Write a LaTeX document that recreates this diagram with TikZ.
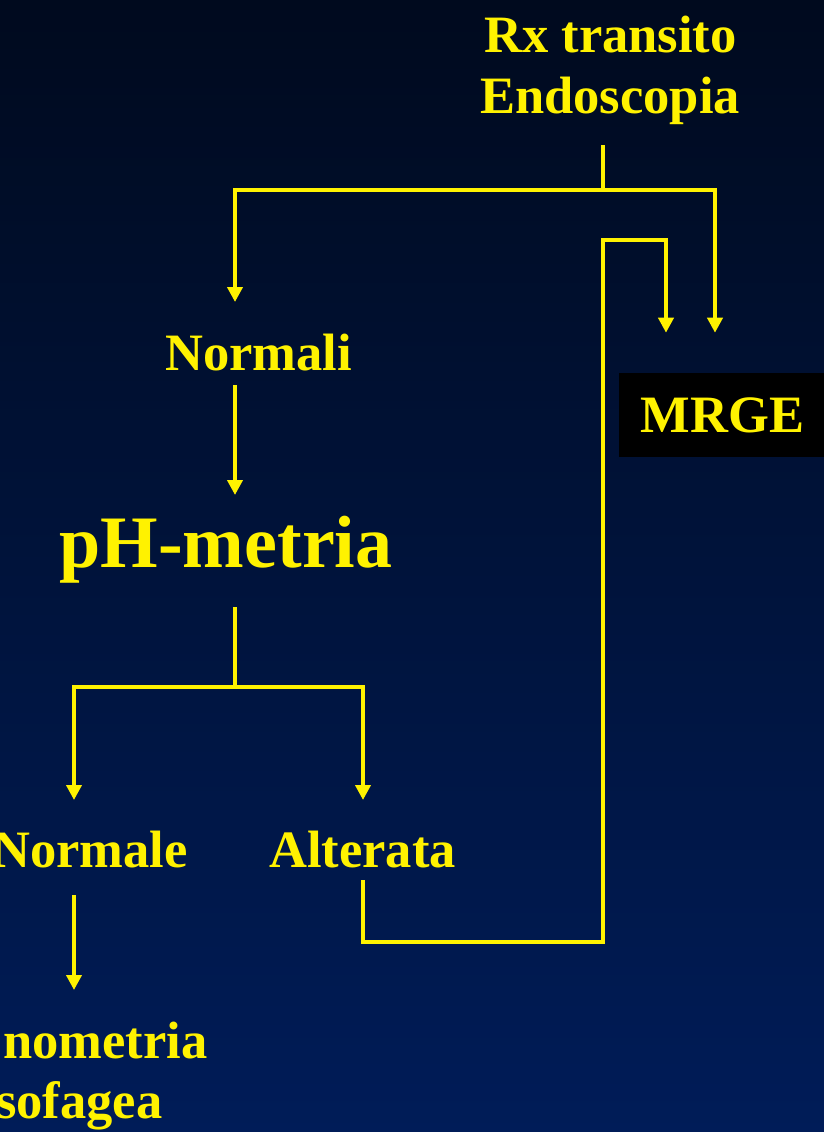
\documentclass[tikz,border=0pt]{standalone}
\usepackage{fontspec}
\setmainfont{Liberation Serif}
\usetikzlibrary{arrows.meta}
\definecolor{bgtop}{RGB}{0,10,30}
\definecolor{bgbot}{RGB}{0,28,88}
\begin{document}
\begin{tikzpicture}[x=0.75pt,y=-0.75pt,
  lbl/.style={text=yellow,font=\fontsize{39.4}{46}\selectfont\bfseries,inner sep=0pt,anchor=base},
  big/.style={lbl,font=\fontsize{55.5}{64}\selectfont\bfseries},
  tag/.style={fill=black,text=yellow,font=\fontsize{39.4}{46}\selectfont\bfseries,
              inner sep=0pt,minimum width=155.25pt,minimum height=63pt},
  wire/.style={draw=yellow,line width=3.2pt,line join=miter},
  arr/.style={wire,-{Triangle[width=11.25pt,length=11.25pt]}}]

% page and background
\useasboundingbox (0,0) rectangle (824,1132);
\clip (0,0) rectangle (824,1132);
\shade[top color=bgtop,bottom color=bgbot] (0,0) rectangle (824,1132);

% labels
\node[lbl] (rx1) at (610.5,52) {Rx transito};
\node[lbl] (rx2) at (610,113) {Endoscopia};
\node[lbl] (normali) at (258.5,370) {Normali};
\node[big] (ph) at (226,567) {pH-metria};
\node[lbl,anchor=base east] (normale) at (188,867) {Normale};
\node[lbl] (alterata) at (362.5,867) {Alterata};
\node[lbl,anchor=base west] (mano1) at (3,1058) {nometria};
\node[lbl,anchor=base west] (mano2) at (-4,1118) {sofagea};
\node[tag] (mrge) at (722.5,415) {MRGE};

% junctions and connector columns
\coordinate (top) at (603,190);
\coordinate (loop) at (603,240);
\coordinate (fork) at (235,687);
\coordinate (bend) at (363,942);
\coordinate (cL) at (235,0);
\coordinate (cM) at (666,0);
\coordinate (cR) at (715,0);
\coordinate (cA) at (74,0);
\coordinate (cB) at (363,0);

% first split: normal results vs. reflux disease
\draw[wire,shorten <=24pt] (top |- rx2.base) -- (top);
\draw[arr,shorten >=51pt] (top) -| (cL |- normali.base);
\draw[arr,shorten >=30pt] (top) -| (cR |- mrge.north);

% normal -> pH monitoring
\draw[arr,shorten <=11.25pt,shorten >=54pt] (cL |- normali.base) -- (cL |- ph.base);

% pH monitoring split
\draw[wire,shorten <=30pt] (cL |- ph.base) -- (fork);
\draw[arr,shorten >=50.25pt] (fork) -| (cA |- normale.base);
\draw[arr,shorten >=50.25pt] (fork) -| (cB |- alterata.base);

% normal -> manometry
\draw[arr,shorten <=21pt,shorten >=51pt] (cA |- normale.base) -- (cA |- mano1.base);

% altered -> back up to MRGE
\draw[arr,shorten <=9.75pt,shorten >=30pt]
  (cB |- alterata.base) -- (bend) -| (loop) -| (cM |- mrge.north);
\end{tikzpicture}
\end{document}
